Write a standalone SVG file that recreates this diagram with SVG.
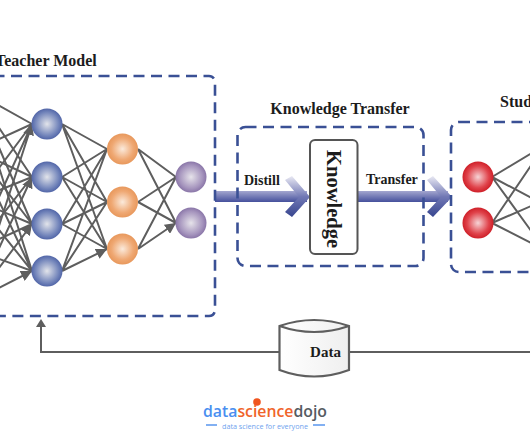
<svg xmlns="http://www.w3.org/2000/svg" width="530" height="442" viewBox="0 0 530 442">
<style>
text{font-family:"Liberation Serif",serif;font-weight:bold;fill:#1c1c1c}
.dash{fill:none;stroke:#3a5095;stroke-width:2.6;stroke-dasharray:11 6.5}
.e{stroke:#5e5e5e;stroke-width:2;fill:none;marker-end:url(#ah)}
.s{stroke:#5e5e5e;stroke-width:2;fill:none}
</style>
<defs>
<marker id="ah" markerUnits="userSpaceOnUse" markerWidth="12" markerHeight="11" refX="11" refY="5.500" orient="auto"><path d="M0 0L11 5.500L0 11Z" fill="#5e5e5e"/></marker>
<radialGradient id="gb"><stop offset="0" stop-color="#e2e4ea"/><stop offset=".75" stop-color="#7486bb"/><stop offset="1" stop-color="#5266a8"/></radialGradient>
<radialGradient id="go"><stop offset="0" stop-color="#fbeadb"/><stop offset=".7" stop-color="#efa873"/><stop offset="1" stop-color="#e8985c"/></radialGradient>
<radialGradient id="gp"><stop offset="0" stop-color="#e6e3ea"/><stop offset=".75" stop-color="#a594bd"/><stop offset="1" stop-color="#8a76a8"/></radialGradient>
<radialGradient id="gr"><stop offset="0" stop-color="#f6d4d6"/><stop offset=".7" stop-color="#e0434b"/><stop offset="1" stop-color="#cf2029"/></radialGradient>
<linearGradient id="sh" x1="0" x2="0" y1="0" y2="1"><stop offset="0" stop-color="#a3a6cf"/><stop offset="1" stop-color="#45509c"/></linearGradient>
<linearGradient id="ch" x1="0" x2="0" y1="0" y2="1"><stop offset="0" stop-color="#e9e9f3"/><stop offset=".5" stop-color="#7279b5"/><stop offset="1" stop-color="#37458f"/></linearGradient>
<linearGradient id="cy" x1="0" x2="1" y1="0" y2="0"><stop offset="0" stop-color="#ffffff"/><stop offset="1" stop-color="#efefef"/></linearGradient>
</defs>

<g id="connectors">
<g id="input-edges">
<path class="e" d="M-25 92L32 124M-25 150L32 124M-25 200L32 124M-25 250L32 124M-25 300L32 124"/>
<path class="e" d="M-25 92L32 177M-25 150L32 177M-25 200L32 177M-25 250L32 177M-25 300L32 177"/>
<path class="e" d="M-25 92L32 224M-25 150L32 224M-25 200L32 224M-25 250L32 224M-25 300L32 224"/>
<path class="e" d="M-25 92L32 271M-25 150L32 271M-25 200L32 271M-25 250L32 271M-25 300L32 271"/>
</g>
<path class="e" d="M62 124L107 149M62 124L107 202M62 124L107 249M62 177L107 149M62 177L107 202M62 177L107 249M62 224L107 149M62 224L107 202M62 224L107 249M62 271L107 149M62 271L107 202M62 271L107 249"/>
<path class="e" d="M138 149L176 177M138 149L176 223M138 202L176 177M138 202L176 223M138 249L176 177M138 249L176 223"/>
<path class="s" d="M492 177L545 145M492 177L545 205M492 177L545 250M492 223L545 145M492 223L545 200M492 223L545 250"/>
<path d="M280 352H41V325" fill="none" stroke="#5e5e5e" stroke-width="2"/>
<path d="M36 327L41 319L46 327Z" fill="#5e5e5e"/>
<path d="M349 352H530" fill="none" stroke="#5e5e5e" stroke-width="2"/>
<g id="flow-distill">
<rect x="215" y="191" width="92" height="11" fill="url(#sh)"/>
<path d="M285 180L292 176L310 197L292 217L285 212L299 197Z" fill="url(#ch)"/>
</g>
<g id="flow-transfer">
<rect x="358" y="191" width="90" height="11" fill="url(#sh)"/>
<path d="M427 180L433 176L452 197L433 217L427 212L441 197Z" fill="url(#ch)"/>
</g>
</g>

<g id="teacher-model">
<rect class="dash" x="-30" y="76" width="245" height="240" rx="6"/>
<text x="-5" y="66" font-size="16">Teacher Model</text>
<circle cx="47" cy="124" r="15.500" fill="url(#gb)"/>
<circle cx="47" cy="177" r="15.500" fill="url(#gb)"/>
<circle cx="47" cy="224" r="15.500" fill="url(#gb)"/>
<circle cx="47" cy="271" r="15.500" fill="url(#gb)"/>
<circle cx="122.500" cy="149" r="15.500" fill="url(#go)"/>
<circle cx="122.500" cy="202" r="15.500" fill="url(#go)"/>
<circle cx="122.500" cy="249" r="15.500" fill="url(#go)"/>
<circle cx="191" cy="177" r="15.500" fill="url(#gp)"/>
<circle cx="191" cy="223" r="15.500" fill="url(#gp)"/>
</g>

<g id="knowledge-transfer">
<rect class="dash" x="237.500" y="127" width="186" height="139" rx="8"/>
<text x="340" y="114" font-size="16" text-anchor="middle">Knowledge Transfer</text>
<text x="244" y="185" font-size="14">Distill</text>
<text x="366" y="184" font-size="14">Transfer</text>
</g>

<g id="knowledge">
<rect x="310" y="140" width="47.500" height="114" rx="5" fill="#fff" stroke="#555" stroke-width="2"/>
<text transform="translate(327 199) rotate(90)" font-size="20.500" text-anchor="middle">Knowledge</text>
</g>

<g id="student-model">
<rect class="dash" x="451" y="122" width="120" height="150" rx="8"/>
<text x="500" y="107" font-size="16">Student Model</text>
<circle cx="478" cy="177" r="15.500" fill="url(#gr)"/>
<circle cx="478" cy="223" r="15.500" fill="url(#gr)"/>
</g>

<g id="data">
<path d="M279.500 326Q314 314 349 326V370Q314 383 279.500 370Z" fill="url(#cy)" stroke="#5e5e5e" stroke-width="2.200"/>
<path d="M279.500 326Q314 338 349 326" fill="none" stroke="#5e5e5e" stroke-width="2.200"/>
<text x="325.500" y="357" font-size="15" text-anchor="middle">Data</text>
</g>

<g id="logo">
<text x="203" y="416.500" font-size="17" textLength="124" lengthAdjust="spacingAndGlyphs" style="font-family:'Open Sans',sans-serif;font-weight:600"><tspan style="fill:#4a8ff0">data</tspan><tspan style="fill:#f0642a">science</tspan><tspan style="fill:#555b62">dojo</tspan></text>
<circle cx="257" cy="402" r="3.800" fill="#f0541e"/>
<path d="M206 425H217M313 425H325" stroke="#5a97ee" stroke-width="1.300"/>
<text x="222" y="428.500" font-size="7.500" textLength="86" lengthAdjust="spacingAndGlyphs" style="fill:#6fa3ee;font-family:'Open Sans',sans-serif;font-weight:400">data science for everyone</text>
</g>
</svg>
